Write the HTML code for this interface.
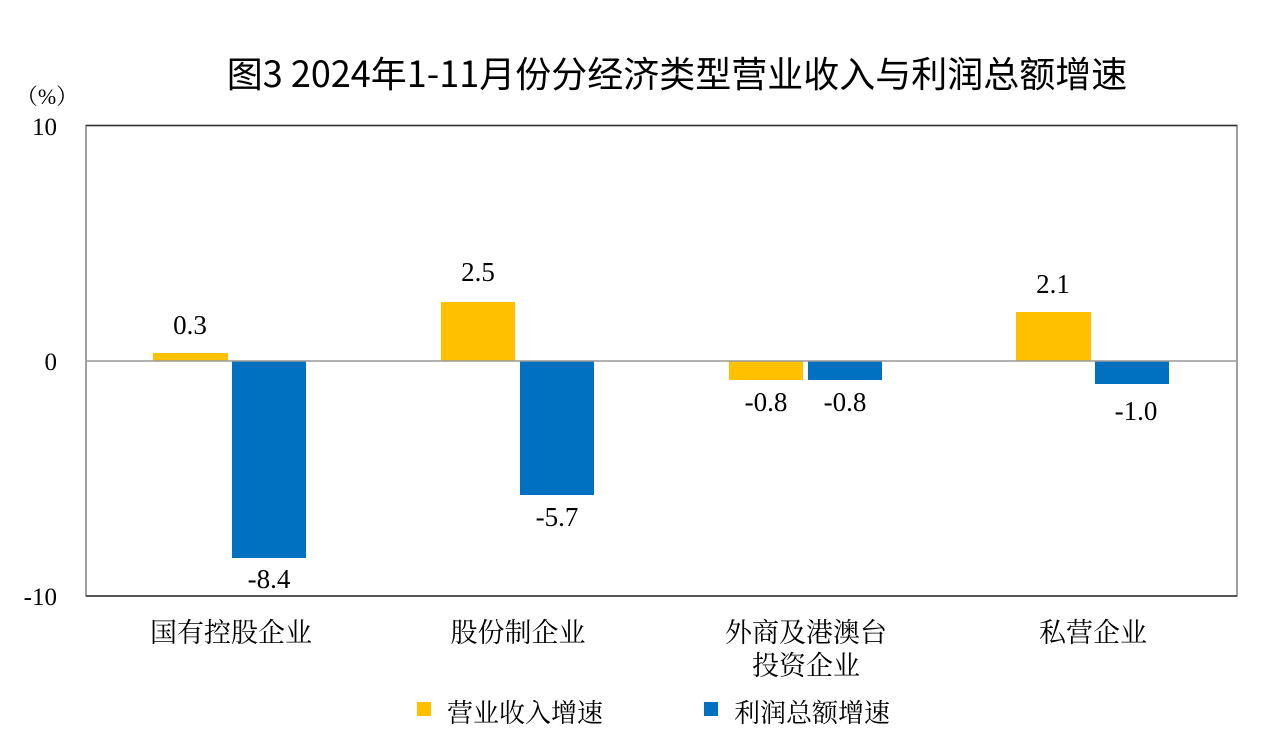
<!DOCTYPE html>
<html><head><meta charset="utf-8"><style>body{margin:0;background:#fff}svg{display:block}</style></head>
<body>
<svg width="1280" height="734" viewBox="0 0 1280 734" xmlns="http://www.w3.org/2000/svg">
<rect width="1280" height="734" fill="#fff"/>
<text x="677" y="87" text-anchor="middle" font-family="'Noto Sans CJK SC',sans-serif" font-size="36" fill="#000">图3 2024年1-11月份分经济类型营业收入与利润总额增速</text>
<g font-family="'Liberation Serif','Noto Serif CJK SC',serif" font-size="25" fill="#000">
<text x="47" y="104" text-anchor="middle" font-size="22">（%）</text>
<text x="57" y="135" text-anchor="end">10</text>
<text x="57" y="370" text-anchor="end">0</text>
<text x="57" y="605" text-anchor="end">-10</text>
</g>
<rect x="86" y="125.5" width="1151" height="470.5" fill="none" stroke="#808080" stroke-width="1.5"/>
<line x1="86" y1="125.5" x2="1237" y2="125.5" stroke="#333" stroke-width="1.5"/>
<line x1="86" y1="596" x2="1237" y2="596" stroke="#333" stroke-width="1.5"/>
<g fill="#FFC000">
<rect x="153" y="353" width="75" height="8"/>
<rect x="441" y="302" width="74" height="59"/>
<rect x="729" y="361" width="74" height="19"/>
<rect x="1016" y="312" width="75" height="49"/>
</g>
<g fill="#0070C0">
<rect x="232" y="361" width="74" height="197"/>
<rect x="520" y="361" width="74" height="134"/>
<rect x="808" y="361" width="74" height="19"/>
<rect x="1095" y="361" width="74" height="23"/>
</g>
<line x1="86" y1="361" x2="1237" y2="361" stroke="#999" stroke-width="1.5"/>
<g font-family="'Liberation Serif',serif" font-size="27" fill="#000" text-anchor="middle">
<text x="190" y="334">0.3</text>
<text x="478" y="281">2.5</text>
<text x="1053" y="293">2.1</text>
<text x="269" y="588">-8.4</text>
<text x="557" y="526">-5.7</text>
<text x="766" y="411">-0.8</text>
<text x="845" y="411">-0.8</text>
<text x="1136" y="420">-1.0</text>
</g>
<g font-family="'Noto Serif CJK SC',serif" font-size="27" fill="#000" text-anchor="middle">
<text x="231" y="642">国有控股企业</text>
<text x="518" y="642">股份制企业</text>
<text x="806" y="642">外商及港澳台</text>
<text x="806" y="675">投资企业</text>
<text x="1093" y="642">私营企业</text>
<text x="525" y="722" font-size="26">营业收入增速</text>
<text x="812" y="722" font-size="26">利润总额增速</text>
</g>
<rect x="417" y="702" width="14" height="14" fill="#FFC000"/>
<rect x="704" y="702" width="14" height="14" fill="#0070C0"/>
</svg>
</body></html>
